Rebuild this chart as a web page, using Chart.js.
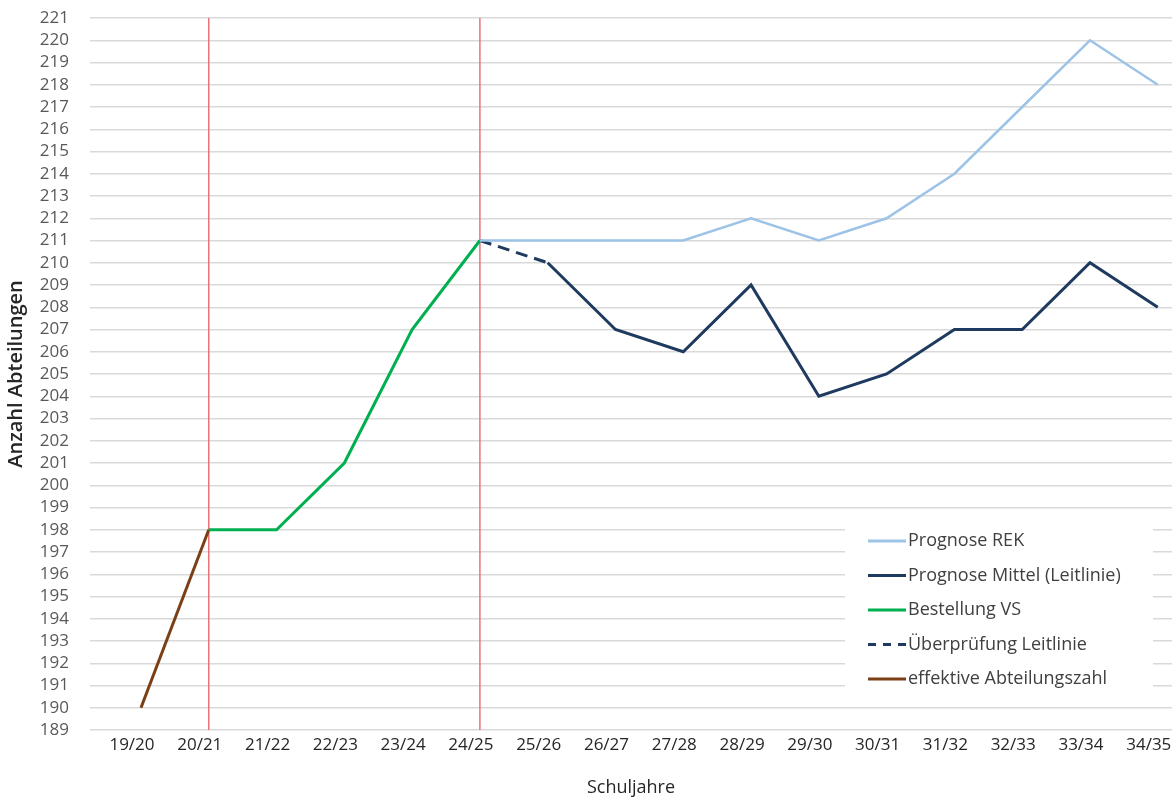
<!DOCTYPE html>
<html lang="de">
<head>
<meta charset="UTF-8">
<title>Anzahl Abteilungen</title>
<script src="https://cdn.jsdelivr.net/npm/chart.js"></script>
<style>
  html, body { margin: 0; padding: 0; background: #fff; }
  #wrap { position: relative; width: 1176px; height: 803px; }
</style>
</head>
<body>
<div id="wrap"><canvas id="chart"></canvas></div>
<script>
// Schuljahre and values (null = no value for that year)
const years = ['19/20', '20/21', '21/22', '22/23', '23/24', '24/25', '25/26', '26/27',
               '27/28', '28/29', '29/30', '30/31', '31/32', '32/33', '33/34', '34/35'];
const prognoseREK    = [null, null, null, null, null, 211, 211, 211, 211, 212, 211, 212, 214, 217, 220, 218];
const prognoseMittel = [null, null, null, null, null, null, 210, 207, 206, 209, 204, 205, 207, 207, 210, 208];
const bestellungVS   = [null, 198, 198, 201, 207, 211, null, null, null, null, null, null, null, null, null, null];
const ueberpruefung  = [null, null, null, null, null, 211, 210, null, null, null, null, null, null, null, null, null];
const effektiv       = [190, 198, null, null, null, null, null, null, null, null, null, null, null, null, null, null];
// red markers at these school years
const markerYears = ['20/21', '24/25'];
const yMin = 189, yMax = 221;

const FONT = '"Open Sans", "Liberation Sans", sans-serif';

function toPoints(arr) {
  return arr.map((v, i) => (v === null ? null : { x: i, y: v })).filter(p => p);
}

function markerLine(year) {
  const i = years.indexOf(year);
  return {
    label: '', data: [{ x: i, y: yMin }, { x: i, y: yMax }],
    borderColor: '#e8737a', borderWidth: 1.5, pointRadius: 0, order: 10, inLegend: false
  };
}

function series(label, arr, color, width, dash) {
  return {
    label, data: toPoints(arr), borderColor: color, backgroundColor: color,
    borderWidth: width, borderDash: dash || [], pointRadius: 0, tension: 0,
    borderJoinStyle: 'miter', inLegend: true, order: 1
  };
}

// legend box drawn inside the plot, lower right
const innerLegend = {
  id: 'innerLegend',
  afterDatasetsDraw(chart) {
    const ctx = chart.ctx;
    const items = chart.data.datasets.filter(d => d.inLegend);
    const left = 845, top = 516, w = 308, h = 190;
    ctx.save();
    ctx.fillStyle = '#fff';
    ctx.fillRect(left, top, w, h);
    ctx.font = '18px ' + FONT;
    ctx.textBaseline = 'middle';
    items.forEach((d, k) => {
      const y = top + 25 + k * 34.5;
      ctx.strokeStyle = d.borderColor;
      ctx.lineWidth = 3;
      ctx.setLineDash(d.borderDash.length ? [8, 7] : []);
      ctx.beginPath();
      ctx.moveTo(868, y);
      ctx.lineTo(906, y);
      ctx.stroke();
      ctx.setLineDash([]);
      ctx.fillStyle = '#404040';
      ctx.fillText(d.label, 908, y);
    });
    ctx.restore();
  }
};

new Chart(document.getElementById('chart'), {
  type: 'line',
  data: {
    datasets: [
      series('Prognose REK', prognoseREK, '#9dc3e6', 2.5),
      series('Prognose Mittel (Leitlinie)', prognoseMittel, '#1f3a5f', 3),
      series('Bestellung VS', bestellungVS, '#00b050', 3),
      series('Überprüfung Leitlinie', ueberpruefung, '#1f3a5f', 3, [12, 7]),
      series('effektive Abteilungszahl', effektiv, '#7b3f16', 3),
      ...markerYears.map(markerLine)
    ]
  },
  options: {
    responsive: true,
    maintainAspectRatio: false,
    animation: false,
    layout: { padding: { top: 18, right: 4, left: 0, bottom: 0 } },
    plugins: { legend: { display: false }, tooltip: { enabled: false } },
    scales: {
      x: {
        type: 'linear',
        min: -0.752, max: 15.21,
        afterBuildTicks: s => { s.ticks = years.map((_, i) => ({ value: i })); },
        afterFit: s => { s.height = 73; s.paddingLeft = 0; s.paddingRight = 0; },
        grid: { display: false, drawTicks: false },
        border: { display: false },
        ticks: {
          callback: v => years[v],
          color: '#262626', font: { family: FONT, size: 17 },
          padding: 5, labelOffset: -9, maxRotation: 0, autoSkip: false
        },
        title: {
          display: true, text: 'Schuljahre', color: '#262626',
          font: { family: FONT, size: 18 }, padding: { top: 3 }
        }
      },
      y: {
        min: yMin, max: yMax,
        afterFit: s => { s.width = 90; s.paddingTop = 0; s.paddingBottom = 0; },
        grid: { color: '#d9d9d9', lineWidth: 1.5, drawTicks: false },
        border: { display: false },
        ticks: {
          stepSize: 1, autoSkip: false, color: '#595959',
          font: { family: FONT, size: 17 }, padding: 21
        },
        title: {
          display: true, text: 'Anzahl Abteilungen', color: '#262626',
          font: { family: FONT, size: 20, weight: '600' }, padding: { bottom: 0 }
        }
      }
    }
  },
  plugins: [innerLegend]
});
</script>
</body>
</html>
